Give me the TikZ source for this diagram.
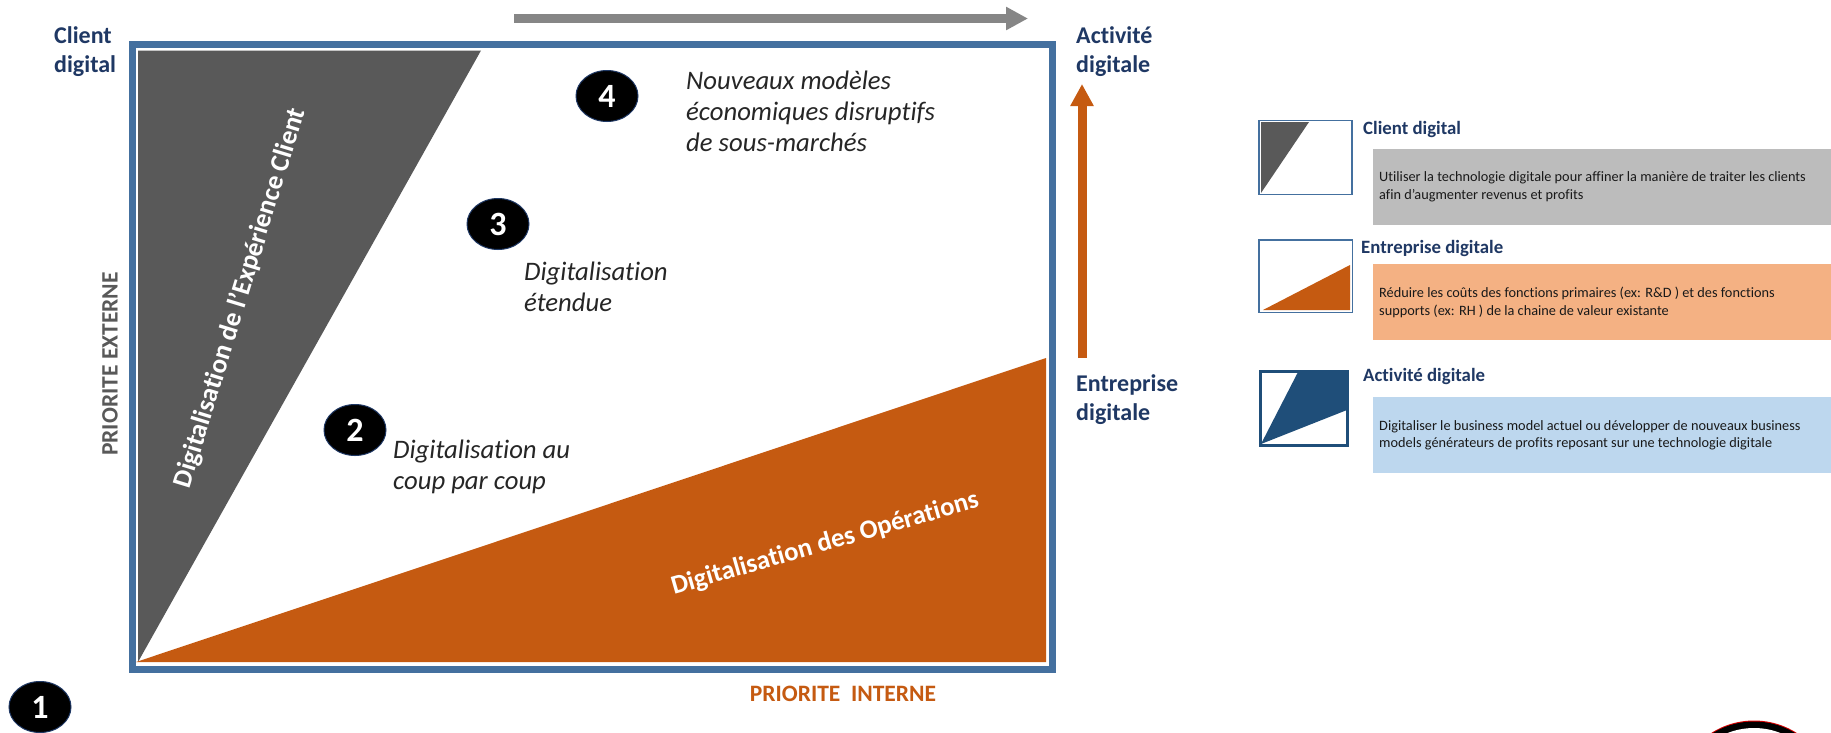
\documentclass[tikz,border=0pt]{standalone}
\usepackage{fontspec}
\setmainfont[Ligatures={NoCommon}]{Carlito}
\usetikzlibrary{arrows.meta,shapes.geometric}
\definecolor{frameblue}{HTML}{44709F}
\definecolor{navy}{HTML}{1F3864}
\definecolor{dgray}{HTML}{595959}
\definecolor{rust}{HTML}{C55A11}
\definecolor{darkblue}{HTML}{1F4E79}
\definecolor{panelgray}{HTML}{BCBCBC}
\definecolor{panelorange}{HTML}{F4B183}
\definecolor{panelblue}{HTML}{BDD7EE}
\tikzset{
  axislabel/.style={text=navy,font=\fontsize{24}{29}\selectfont\bfseries,align=left,anchor=west,inner sep=0pt},
  quote/.style={text=black!85,font=\fontsize{26.7}{31}\selectfont\itshape,align=left,anchor=west,inner sep=0pt},
  badge/.style={ellipse,fill=black,draw=navy,line width=1pt,minimum width=62pt,minimum height=51pt,inner sep=0pt,text=white,font=\fontsize{34}{34}\selectfont\bfseries},
  banner/.style={text=white,font=\fontsize{27}{27}\selectfont\bfseries,inner sep=0pt},
  legendhead/.style={text=navy,font=\fontsize{18.8}{22}\selectfont\bfseries,anchor=west,inner sep=0pt},
  panel/.style={anchor=north west,inner sep=0pt,minimum width=458pt,minimum height=76pt},
  paneltext/.style={text=black!90,font=\fontsize{14.3}{17.5}\selectfont,align=left,anchor=west,inner sep=0pt},
  legendbox/.style={draw=frameblue,line width=1.6pt,fill=white},
  bigarrow/.style={line width=9pt,-{Triangle[length=22pt,width=22pt]}},
}
\begin{document}
\begin{tikzpicture}[x=1pt,y=-1pt]
\useasboundingbox (0,0) rectangle (1831,732);
\fill[white] (0,0) rectangle (1831,732);
% main frame
\fill[dgray] (138,50.5) -- (481,50.5) -- (138,662) -- cycle;
\fill[rust] (136,662) -- (1046,358) -- (1046,662) -- cycle;
\draw[frameblue,line width=7pt] (132,44.5) rectangle (1052.5,669);
% arrows
\coordinate (gs) at (514,18.5); \coordinate (ge) at (1028,18.5);
\draw[bigarrow,draw=gray!95] (gs) -- (ge);
\coordinate (os) at (1082,358); \coordinate (oe) at (1082,84);
\draw[bigarrow,draw=rust] (os) -- (oe);
% axis labels
\node[axislabel] (cd) at (54,52) {Client\\digital};
\node[axislabel] (ad) at (1076,52) {Activité\\digitale};
\node[axislabel] (ed) at (1076,400) {Entreprise\\digitale};
\node[text=dgray,font=\fontsize{23.5}{23.5}\selectfont\bfseries,rotate=90,inner sep=0pt] (pe) at (110,364) {PRIORITE EXTERNE};
\node[text=rust,font=\fontsize{23.5}{23.5}\selectfont\bfseries,inner sep=0pt] (pi) at (843,694) {PRIORITE\ \ INTERNE};
% banners
\node[banner,rotate=73] (b1) at (240,298) {Digitalisation de l’Expérience Client};
\node[banner,rotate=16,font=\fontsize{26.6}{27}\selectfont\bfseries] (b2) at (825,544) {Digitalisation des Opérations};
% badges
\node[badge] (n1) at (40,707) {1};
\node[badge] (n2) at (355,430) {2};
\node[badge] (n3) at (498,224) {3};
\node[badge] (n4) at (607,96) {4};
% quotes
\node[quote] (q4) at (686,111) {Nouveaux modèles\\économiques disruptifs\\de sous-marchés};
\node[quote] (q3) at (524,287) {Digitalisation\\étendue};
\node[quote] (q2) at (393,467) {Digitalisation au\\coup par coup};
% legend 1
\draw[legendbox] (1259,120.5) rectangle (1352,194.5);
\fill[dgray] (1261,122) -- (1309,122) -- (1261,193) -- cycle;
\node[legendhead] (h1) at (1363,129) {Client digital};
\node[panel,fill=panelgray] (p1) at (1373,149) {};
\node[paneltext] (t1) at (1379,187) {Utiliser la technologie digitale pour affiner la manière de traiter les clients\\afin d’augmenter revenus et profits};
% legend 2
\draw[legendbox] (1259,240) rectangle (1352.5,312.5);
\fill[rust] (1263,310) -- (1350,265) -- (1350,310) -- cycle;
\node[legendhead] (h2) at (1361,248.5) {Entreprise digitale};
\node[panel,fill=panelorange] (p2) at (1373,264) {};
\node[paneltext] (t2) at (1379,302.5) {Réduire les coûts des fonctions primaires (ex: R\&D ) et des fonctions\\supports (ex: RH ) de la chaine de valeur existante};
% legend 3
\draw[darkblue,line width=3pt,fill=white] (1260.5,371.5) rectangle (1347,445);
\fill[darkblue] (1298,372) -- (1347,372) -- (1347,410) -- (1261,444) -- cycle;
\node[legendhead] (h3) at (1363,376) {Activité digitale};
\node[panel,fill=panelblue] (p3) at (1373,397) {};
\node[paneltext] (t3) at (1379,435.5) {Digitaliser le business model actuel ou développer de nouveaux business\\models générateurs de profits reposant sur une technologie digitale};
% cropped logo at the page edge
\begin{scope}
\clip (0,0) rectangle (1831,732);
\fill[red!85!black] (1754,800) circle[radius=79.5pt];
\fill[black] (1754,800.5) circle[radius=79pt];
\fill[white] (1754,800) circle[radius=72pt];
\end{scope}
\end{tikzpicture}
\end{document}
